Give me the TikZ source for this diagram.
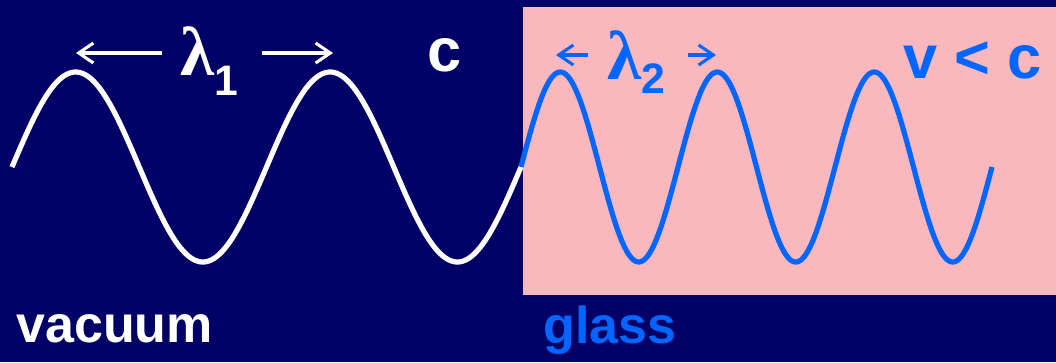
\documentclass[tikz,border=0pt]{standalone}
\usepackage{fontspec}
\setmainfont{Liberation Sans}
\newfontfamily\lamfont{Liberation Serif}
\usetikzlibrary{arrows.meta}
\definecolor{navybg}{RGB}{0,0,102}
\definecolor{glasspink}{RGB}{248,184,190}
\definecolor{wblue}{RGB}{0,102,255}
\begin{document}
\begin{tikzpicture}[x=0.75pt,y=-0.75pt,
  wave/.style={line width=3.9pt, line cap=butt, line join=round},
  biglabel/.style={font=\fontsize{39}{39}\selectfont\bfseries, inner sep=0pt},
  toplabel/.style={font=\fontsize{46}{46}\selectfont\bfseries, inner sep=0pt},
  lamlabel/.style={inner sep=0pt},
  lamarrow/.style={line width=2.3pt, -{Straight Barb[length=11pt,width=15pt,line width=2.3pt]}}
]
\fill[navybg] (0,0) rectangle (1056,362);
\useasboundingbox (0,0) rectangle (1056,362);
\fill[glasspink] (523,7) rectangle (1056,295);

% waves
\draw[wave, white] plot[domain=12:522, samples=300] (\x, {167 - 95*sin((\x-12)*1.41454)});
\draw[wave, wblue] plot[domain=521:992, samples=300] (\x, {167 - 95*sin((\x-521)*2.29299)});

% lambda 1
\node[lamlabel, anchor=base west, text=white] (lam1) at (180,75)
  {{\lamfont\bfseries\fontsize{52}{52}\selectfont λ}\raisebox{-15pt}{\fontsize{32}{32}\selectfont\bfseries 1}};
\coordinate (l1a) at (162,53);
\coordinate (l1b) at (76,53);
\coordinate (l1c) at (262,53);
\coordinate (l1d) at (333,53);
\draw[lamarrow, white] (l1a) -- (l1b);
\draw[lamarrow, white] (l1c) -- (l1d);

% lambda 2
\node[lamlabel, anchor=base west, text=wblue] (lam2) at (607,79)
  {{\lamfont\bfseries\fontsize{52}{52}\selectfont λ}\raisebox{-11pt}{\fontsize{32}{32}\selectfont\bfseries 2}};
\coordinate (l2a) at (588,55);
\coordinate (l2b) at (556,55);
\coordinate (l2c) at (688,55);
\coordinate (l2d) at (716,55);
\draw[lamarrow, wblue] (l2a) -- (l2b);
\draw[lamarrow, wblue] (l2c) -- (l2d);

% labels
\node[toplabel, anchor=base west, text=white] (c) at (427,71) {c};
\node[toplabel, anchor=base west, text=wblue] (vc) at (903,78) {v < c};
\node[biglabel, anchor=base west, text=white] (vac) at (16,342) {vacuum};
\node[biglabel, anchor=base west, text=wblue] (gl) at (543,343) {glass};
\end{tikzpicture}
\end{document}
